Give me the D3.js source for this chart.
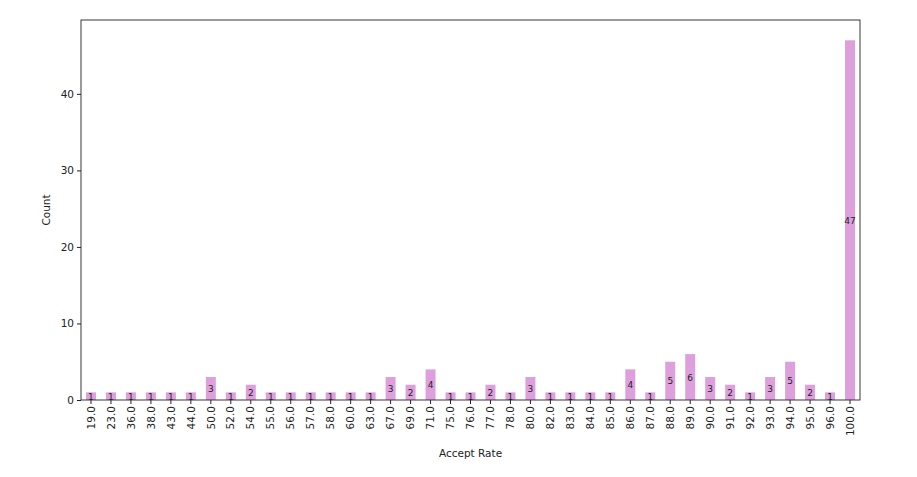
<!DOCTYPE html>
<html><head><meta charset="utf-8">
<script src="https://cdn.jsdelivr.net/npm/d3@7"></script>
<style>body{margin:0;background:#fff}text{font-family:"DejaVu Sans",sans-serif}</style>
</head><body><svg id="c" width="917" height="477"></svg>
<script>
const categories=["19.0","23.0","36.0","38.0","43.0","44.0","50.0","52.0","54.0","55.0","56.0","57.0","58.0","60.0","63.0","67.0","69.0","71.0","75.0","76.0","77.0","78.0","80.0","82.0","83.0","84.0","85.0","86.0","87.0","88.0","89.0","90.0","91.0","92.0","93.0","94.0","95.0","96.0","100.0"];
const counts=[1,1,1,1,1,1,3,1,2,1,1,1,1,1,1,3,2,4,1,1,2,1,3,1,1,1,1,4,1,5,6,3,2,1,3,5,2,1,47];
const yTicks=[0,10,20,30,40];
const svg=d3.select("#c");
const L=81,R=860,T=20,B=400;
const x=d3.scaleBand().domain(categories).range([L,R]).paddingInner(0.5).paddingOuter(0.25);
const y=d3.scaleLinear().domain([0,49.65]).range([B,T]);
svg.selectAll("rect.bar").data(counts).enter().append("rect")
 .attr("x",(d,i)=>x(categories[i])).attr("width",x.bandwidth())
 .attr("y",d=>y(d)).attr("height",d=>B-y(d)).attr("fill","#dda0dd");
svg.selectAll("text.lab").data(counts).enter().append("text")
 .attr("x",(d,i)=>x(categories[i])+x.bandwidth()/2).attr("y",d=>(y(d)+B)/2+3.5)
 .attr("text-anchor","middle").attr("font-size",9).attr("fill","#222").text(d=>d);
const ga=svg.append("g").attr("transform",`translate(0,${B})`).call(d3.axisBottom(x).tickSizeOuter(0).tickSize(4));
ga.selectAll("text").attr("transform","rotate(-90)").attr("text-anchor","end").attr("x",-6).attr("y",0).attr("dy","0.35em").attr("font-size",10.5).attr("fill","#222");
const gy=svg.append("g").attr("transform",`translate(${L},0)`).call(d3.axisLeft(y).tickValues(yTicks).tickSizeOuter(0).tickSize(4));
gy.selectAll("text").attr("font-size",10.5).attr("fill","#222");
[ga,gy].forEach(g=>{g.select(".domain").remove();g.selectAll("line").attr("stroke","#222");});
svg.append("rect").attr("x",L).attr("y",T).attr("width",R-L).attr("height",B-T).attr("fill","none").attr("stroke","#222").attr("stroke-width",0.9);
svg.append("text").attr("x",(L+R)/2).attr("y",457).attr("text-anchor","middle").attr("font-size",10.5).attr("fill","#222").text("Accept Rate");
svg.append("text").attr("transform",`translate(50,${(T+B)/2}) rotate(-90)`).attr("text-anchor","middle").attr("font-size",10.5).attr("fill","#222").text("Count");
</script></body></html>
